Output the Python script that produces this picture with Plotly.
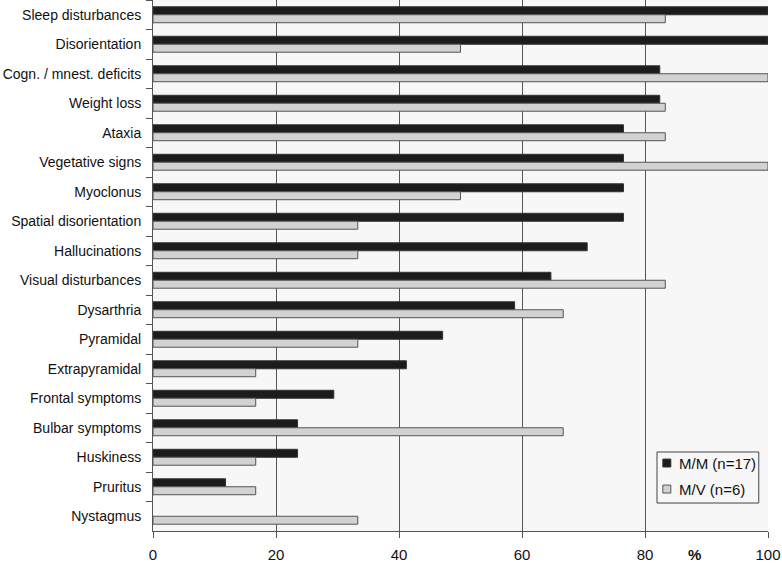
import plotly.graph_objects as go

categories = [
    "Sleep disturbances", "Disorientation", "Cogn. / mnest. deficits", "Weight loss",
    "Ataxia", "Vegetative signs", "Myoclonus", "Spatial disorientation",
    "Hallucinations", "Visual disturbances", "Dysarthria", "Pyramidal",
    "Extrapyramidal", "Frontal symptoms", "Bulbar symptoms", "Huskiness",
    "Pruritus", "Nystagmus",
]
mm_values = [100, 100, 82.4, 82.4, 76.5, 76.5, 76.5, 76.5, 70.6, 64.7, 58.8,
             47.1, 41.2, 29.4, 23.5, 23.5, 11.8, 0]
mv_values = [83.3, 50, 100, 83.3, 83.3, 100, 50, 33.3, 33.3, 83.3, 66.7,
             33.3, 16.7, 16.7, 66.7, 16.7, 16.7, 33.3]
series_names = ["M/M (n=17)", "M/V (n=6)"]
x_ticks = [0, 20, 40, 60, 80, 100]

DARK, DARK_EDGE = "#1c1c1c", "#333333"
LIGHT, LIGHT_EDGE = "#d2d2d2", "#555555"

fig = go.Figure()
for name, values, fill, edge in [
    (series_names[0], mm_values, DARK, DARK_EDGE),
    (series_names[1], mv_values, LIGHT, LIGHT_EDGE),
]:
    fig.add_trace(go.Bar(
        y=categories, x=values, orientation="h", name=name, showlegend=False,
        marker=dict(color=fill, line=dict(color=edge, width=[1 if v > 0 else 0 for v in values])),
    ))

fig.update_layout(
    width=782, height=566,
    barmode="group", bargap=0.46, bargroupgap=0,
    margin=dict(l=153, r=14, t=0, b=35),
    paper_bgcolor="white", plot_bgcolor="#f7f7f7",
    font=dict(family="Liberation Sans, Arial, sans-serif", size=14, color="#111111"),
    xaxis=dict(
        range=[0, 100], tickvals=x_ticks, showgrid=True, gridcolor="#555555", gridwidth=1,
        zeroline=False, showline=True, linecolor="#555555", linewidth=1,
        ticks="outside", ticklen=6, tickcolor="#555555",
        tickfont=dict(size=15), automargin=False, fixedrange=True,
        ticklabelstandoff=4,
    ),
    yaxis=dict(
        categoryorder="array", categoryarray=categories, autorange="reversed",
        showgrid=False, showline=True, linecolor="#555555", linewidth=1,
        ticks="outside", ticklen=6, tickcolor="#555555", tickson="boundaries",
        tickfont=dict(size=14), automargin=False, ticklabelstandoff=8,
    ),
)

# compact legend box like the original (plotly's own legend is too wide)
fig.add_shape(type="rect", xref="paper", yref="paper", x0=0.8195, x1=0.985, y0=0.0527, y1=0.1488,
              line=dict(color="#444444", width=1), fillcolor="#f7f7f7", layer="above")
for name, fill, edge, yc in [
    (series_names[0], DARK, DARK_EDGE, 0.128),
    (series_names[1], LIGHT, LIGHT_EDGE, 0.079),
]:
    fig.add_shape(type="rect", xref="paper", yref="paper", x0=0.829, x1=0.842,
                  y0=yc - 0.0075, y1=yc + 0.0075, line=dict(color=edge, width=1),
                  fillcolor=fill, layer="above")
    fig.add_annotation(text=name, xref="paper", yref="paper", x=0.852, y=yc,
                       xanchor="left", yanchor="middle", showarrow=False, font=dict(size=15))

fig.add_annotation(
    text="<b>%</b>", xref="paper", yref="paper", x=0.894, y=-0.045,
    showarrow=False, font=dict(size=15), yanchor="middle",
)

# drop the default page margin so the figure sits at the window's corner
fig.write_html("out.html", config={"displayModeBar": False},
               post_script="document.body.style.margin='0px';")
